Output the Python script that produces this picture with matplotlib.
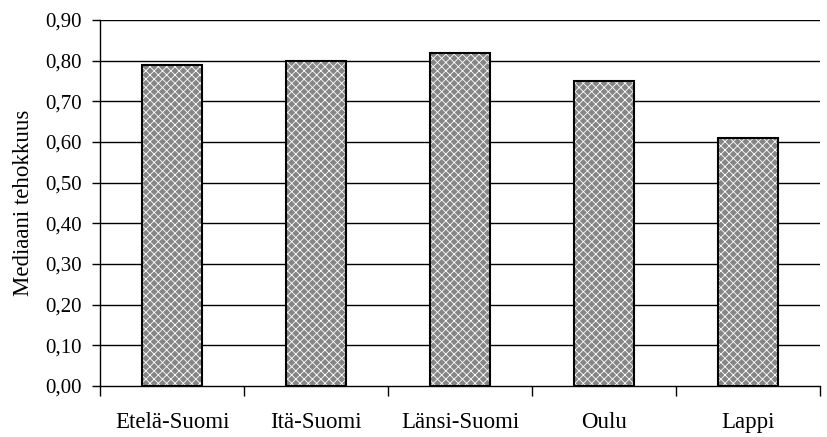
import numpy as np
import matplotlib.pyplot as plt
from matplotlib.ticker import FixedLocator, FuncFormatter

alueet = ["Etelä-Suomi", "Itä-Suomi", "Länsi-Suomi", "Oulu", "Lappi"]
tehokkuus = [0.79, 0.80, 0.82, 0.75, 0.61]
y_ticks = [0.0, 0.1, 0.2, 0.3, 0.4, 0.5, 0.6, 0.7, 0.8, 0.9]

plt.rcParams['font.family'] = ['Liberation Serif', 'DejaVu Serif']
plt.rcParams['hatch.linewidth'] = 0.6

fig = plt.figure(figsize=(8.27, 4.37), dpi=100)
ax = fig.add_axes([100 / 827, 1 - 386 / 437, (820 - 100) / 827, (386 - 20) / 437])

x = np.arange(len(alueet))
for yv in y_ticks[1:]:
    ax.axhline(yv, color='black', linewidth=1.0, zorder=1)

# kuviollinen täyttö: harmaa pohja ja valkoinen ruudukko
ax.bar(x, tehokkuus, width=0.41, color='#858585', edgecolor='white',
       hatch='xxxx', linewidth=0, zorder=2)
ax.bar(x, tehokkuus, width=0.41, color='none', edgecolor='black',
       linewidth=1.5, zorder=3)

ax.set_xlim(-0.5, len(alueet) - 0.5)
ax.set_ylim(0, 0.9)
ax.set_yticks(y_ticks)
ax.yaxis.set_major_formatter(FuncFormatter(lambda v, p: f"{v:.2f}".replace('.', ',')))

ax.xaxis.set_major_locator(FixedLocator(np.arange(-0.5, len(alueet), 1.0)))
ax.xaxis.set_major_formatter(FuncFormatter(lambda v, p: ""))
ax.xaxis.set_minor_locator(FixedLocator(x))
ax.set_xticklabels(alueet, minor=True)
ax.tick_params(axis='x', which='major', length=7, width=1, direction='out')
ax.tick_params(axis='x', which='minor', length=0, pad=19, labelsize=16.5)
ax.tick_params(axis='y', length=6, width=1, direction='out', labelsize=15, pad=7)

ax.spines['top'].set_visible(False)
ax.spines['right'].set_visible(False)
ax.spines['left'].set_linewidth(1)
ax.spines['bottom'].set_linewidth(1)

ax.set_ylabel("Mediaani tehokkuus", fontsize=16.5, labelpad=8)

fig.savefig("out.png", dpi=100)
